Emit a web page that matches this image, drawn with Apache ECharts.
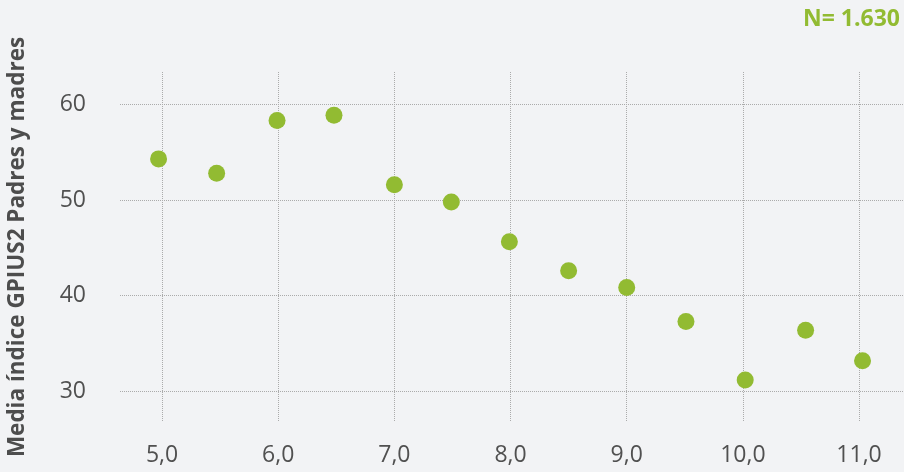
<!DOCTYPE html>
<html>
<head>
<meta charset="utf-8">
<script src="https://cdn.jsdelivr.net/npm/echarts@6/dist/echarts.min.js"></script>
<style>
html,body{margin:0;padding:0;background:#f2f3f5;}
#c{width:904px;height:472px;}
</style>
</head>
<body>
<div id="c"></div>
<script>
var xValues = [4.97, 5.47, 5.99, 6.48, 7.0, 7.49, 7.99, 8.5, 9.0, 9.51, 10.02, 10.54, 11.03];
var yValues = [54.3, 52.8, 58.3, 58.85, 51.6, 49.8, 45.65, 42.6, 40.85, 37.3, 31.2, 36.4, 33.2];
var xTicks = [5, 6, 7, 8, 9, 10, 11];
var yTicks = [30, 40, 50, 60];
var yAxisTitle = 'Media índice GPIUS2 Padres y madres';
var sampleLabel = 'N= 1.630';

var points = xValues.map(function (x, i) { return [x, yValues[i]]; });
var chart = echarts.init(document.getElementById('c'));
var grid = {type: 'dotted', color: '#ababab', width: 1};
chart.setOption({
  backgroundColor: '#f2f3f5',
  animation: false,
  title: {
    text: sampleLabel, right: 4, top: 8, padding: 0,
    textStyle: {color: '#92bb32', fontFamily: 'Open Sans', fontWeight: 'bold', fontSize: 23}
  },
  grid: {left: 120, right: 0, top: 72, bottom: 50, outerBoundsMode: 'none', containLabel: false},
  xAxis: {
    type: 'value', min: 4.638, max: 11.387,
    axisLine: {show: false}, axisTick: {show: false, customValues: xTicks},
    splitLine: {show: true, lineStyle: grid},
    axisLabel: {
      customValues: xTicks, margin: 22,
      color: '#505050', fontFamily: 'Open Sans', fontSize: 23,
      formatter: function (v) { return v.toFixed(1).replace('.', ','); }
    }
  },
  yAxis: {
    type: 'value', min: 26.8, max: 63.38,
    name: yAxisTitle, nameLocation: 'middle', nameGap: 91, nameRotate: 90,
    nameTextStyle: {color: '#4d4d4d', fontFamily: 'Open Sans', fontWeight: 'bold', fontSize: 22.5},
    axisLine: {show: false}, axisTick: {show: false, customValues: yTicks},
    splitLine: {show: true, lineStyle: grid},
    axisLabel: {
      customValues: yTicks, margin: 34,
      color: '#505050', fontFamily: 'Open Sans', fontSize: 23
    }
  },
  series: [{
    type: 'scatter', data: points, symbolSize: 17,
    itemStyle: {color: '#92bb32', opacity: 1}
  }]
});
</script>
</body>
</html>
